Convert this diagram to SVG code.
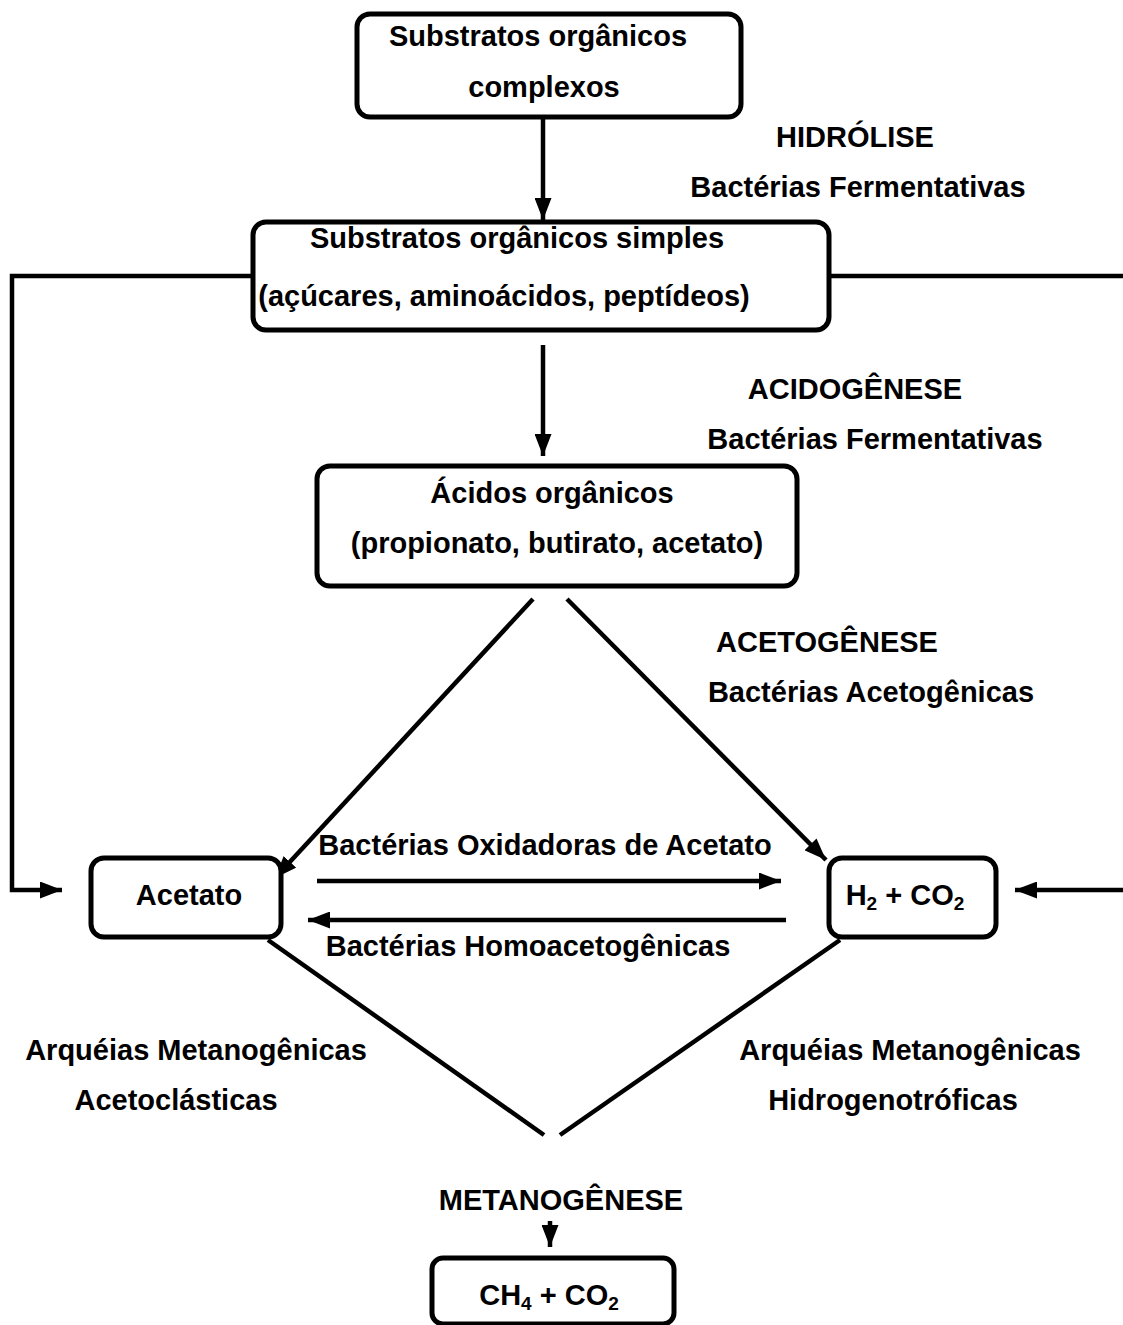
<svg xmlns="http://www.w3.org/2000/svg" width="1123" height="1325" viewBox="0 0 1123 1325">
<style>
.box{fill:#fff;stroke:#000;stroke-width:5}
.ln{fill:none;stroke:#000;stroke-width:4.5}
text{font-family:"Liberation Sans",Arial,sans-serif;font-weight:bold;font-size:29px;fill:#000;text-anchor:middle}
.sub{font-size:19px}
</style>
<defs>
<marker id="a" viewBox="0 0 12 12" refX="12" refY="6" markerWidth="22" markerHeight="17" markerUnits="userSpaceOnUse" orient="auto" preserveAspectRatio="none">
<path d="M0,0 L12,6 L0,12 z" fill="#000"/>
</marker>
</defs>
<rect width="1123" height="1325" fill="#fff"/>
<g id="connectors">
<line class="ln" x1="543" y1="117" x2="543" y2="220" marker-end="url(#a)"/>
<line class="ln" x1="543" y1="345" x2="543" y2="456" marker-end="url(#a)"/>
<polyline class="ln" points="253,276 12,276 12,890 62,890" marker-end="url(#a)"/>
<line class="ln" x1="829" y1="276" x2="1123" y2="276"/>
<line class="ln" x1="1123" y1="890" x2="1015" y2="890" marker-end="url(#a)"/>
<line class="ln" x1="533" y1="599" x2="275" y2="878" marker-end="url(#a)"/>
<line class="ln" x1="567" y1="599" x2="826" y2="860" marker-end="url(#a)"/>
<line class="ln" x1="317" y1="881" x2="781" y2="881" marker-end="url(#a)"/>
<line class="ln" x1="786" y1="920" x2="308" y2="920" marker-end="url(#a)"/>
<line class="ln" x1="268" y1="940" x2="544" y2="1135"/>
<line class="ln" x1="840" y1="940" x2="560" y2="1135"/>
<line class="ln" x1="550" y1="1221" x2="550" y2="1247" marker-end="url(#a)"/>
</g>
<g id="n1">
<rect class="box" x="357" y="14" width="384" height="103" rx="13"/>
<text x="538" y="46">Substratos orgânicos</text>
<text x="544" y="97">complexos</text>
</g>
<g id="n2">
<rect class="box" x="253" y="222" width="576" height="108" rx="13"/>
<text x="517" y="248">Substratos orgânicos simples</text>
<text x="504" y="306">(açúcares, aminoácidos, peptídeos)</text>
</g>
<g id="n3">
<rect class="box" x="317" y="466" width="480" height="120" rx="13"/>
<text x="552" y="503">Ácidos orgânicos</text>
<text x="557" y="553">(propionato, butirato, acetato)</text>
</g>
<g id="n4">
<rect class="box" x="91" y="858" width="190" height="79" rx="13"/>
<text x="189" y="905">Acetato</text>
</g>
<g id="n5">
<rect class="box" x="829" y="858" width="167" height="79" rx="13"/>
<text x="905" y="905">H<tspan class="sub" dy="5">2</tspan><tspan dy="-5"> + CO</tspan><tspan class="sub" dy="5">2</tspan></text>
</g>
<g id="n6">
<rect class="box" x="432" y="1258" width="242" height="66" rx="11"/>
<text x="549" y="1305">CH<tspan class="sub" dy="5">4</tspan><tspan dy="-5"> + CO</tspan><tspan class="sub" dy="5">2</tspan></text>
</g>
<g id="labels">
<text x="855" y="147">HIDRÓLISE</text>
<text x="858" y="197">Bactérias Fermentativas</text>
<text x="855" y="399">ACIDOGÊNESE</text>
<text x="875" y="449">Bactérias Fermentativas</text>
<text x="827" y="652">ACETOGÊNESE</text>
<text x="871" y="702">Bactérias Acetogênicas</text>
<text x="545" y="855">Bactérias Oxidadoras de Acetato</text>
<text x="528" y="956">Bactérias Homoacetogênicas</text>
<text x="196" y="1060">Arquéias Metanogênicas</text>
<text x="176" y="1110">Acetoclásticas</text>
<text x="910" y="1060">Arquéias Metanogênicas</text>
<text x="893" y="1110">Hidrogenotróficas</text>
<text x="561" y="1210">METANOGÊNESE</text>
</g>
</svg>
